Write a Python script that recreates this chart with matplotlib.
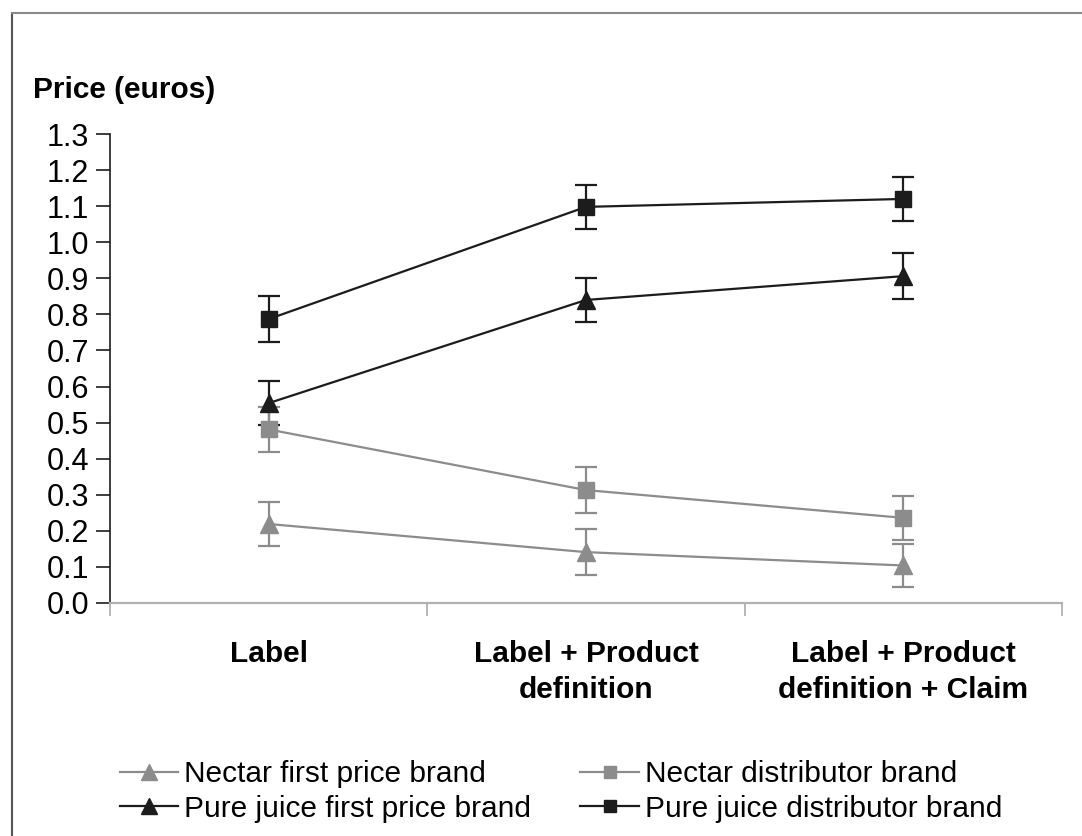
import matplotlib
matplotlib.use("Agg")
import matplotlib.pyplot as plt
from matplotlib.lines import Line2D

plt.rcParams['font.family'] = ['Liberation Sans', 'DejaVu Sans']

categories = ["Label", "Label + Product\ndefinition", "Label + Product\ndefinition + Claim"]
series_names = ["Nectar first price brand", "Nectar distributor brand",
                "Pure juice first price brand", "Pure juice distributor brand"]

nectar_first = [0.219, 0.141, 0.104]
nectar_first_err = [0.060, 0.064, 0.060]
nectar_dist = [0.481, 0.313, 0.236]
nectar_dist_err = [0.062, 0.064, 0.060]
juice_first = [0.554, 0.840, 0.906]
juice_first_err = [0.061, 0.062, 0.063]
juice_dist = [0.787, 1.098, 1.120]
juice_dist_err = [0.063, 0.062, 0.060]

yticks = [round(0.1 * i, 1) for i in range(14)]

BLACK = "#1c1c1c"
GRAY = "#8c8c8c"

fig = plt.figure(figsize=(10.82, 8.36), dpi=100)
ax = fig.add_axes([110 / 1082, 1 - 603 / 836, (1062 - 110) / 1082, (603 - 134) / 836])

x = [0.5, 1.5, 2.5]
styles = [
    (juice_dist, juice_dist_err, BLACK, 's', 11.5),
    (juice_first, juice_first_err, BLACK, '^', 13.5),
    (nectar_dist, nectar_dist_err, GRAY, 's', 11.5),
    (nectar_first, nectar_first_err, GRAY, '^', 13.5),
]
for vals, errs, col, mk, ms in styles:
    ax.errorbar(x, vals, yerr=errs, color=col, ecolor=col, elinewidth=1.6,
                capsize=8, capthick=1.6, lw=1.6, marker=mk, markersize=ms,
                markeredgecolor=col, markerfacecolor=col)

ax.set_xlim(0, 3)
ax.set_ylim(0, 1.3)
ax.set_yticks(yticks)
ax.set_yticklabels([f"{v:.1f}" for v in yticks], fontsize=22)
ax.set_xticks([0, 1, 2, 3])
ax.set_xticklabels([])
ax.set_xticks(x, minor=True)
ax.set_xticklabels(categories, minor=True, fontsize=21.5, fontweight='bold', linespacing=1.35)
ax.tick_params(axis='x', which='minor', length=0, pad=27)
ax.tick_params(axis='x', which='major', length=9, width=1.3, color="#b0b0b0", direction='out')
ax.tick_params(axis='y', length=10, width=1.2, color=BLACK, direction='out', pad=5)

for side in ('top', 'right'):
    ax.spines[side].set_visible(False)
ax.spines['left'].set_color(BLACK)
ax.spines['left'].set_linewidth(1.2)
ax.spines['bottom'].set_color("#b0b0b0")
ax.spines['bottom'].set_linewidth(1.6)

fig.text(33 / 1082, 1 - 90 / 836, "Price (euros)", fontsize=21.5, fontweight='bold',
         ha='left', va='center')

# frame around the chart area
fig.add_artist(Line2D([12 / 1082, 12 / 1082], [0, 1 - 13 / 836], transform=fig.transFigure,
                      color="#555555", lw=1.5))
fig.add_artist(Line2D([12 / 1082, 1], [1 - 13 / 836, 1 - 13 / 836], transform=fig.transFigure,
                      color="#8a8a8a", lw=1.5))

handles = [
    Line2D([], [], color=GRAY, marker='^', markersize=11, lw=1.6),
    Line2D([], [], color=BLACK, marker='^', markersize=11, lw=1.6),
    Line2D([], [], color=GRAY, marker='s', markersize=9, lw=1.6),
    Line2D([], [], color=BLACK, marker='s', markersize=9, lw=1.6),
]
labels = [series_names[0], series_names[2], series_names[1], series_names[3]]
fig.legend(handles, labels, loc='upper left', bbox_to_anchor=(120 / 1082, 1 - 760 / 836),
           ncol=2, frameon=False, fontsize=21.5, handlelength=1.95, handletextpad=0.2,
           columnspacing=1.65, labelspacing=0.22, borderpad=0, borderaxespad=0)

fig.savefig("out.png", dpi=100, facecolor='white')
